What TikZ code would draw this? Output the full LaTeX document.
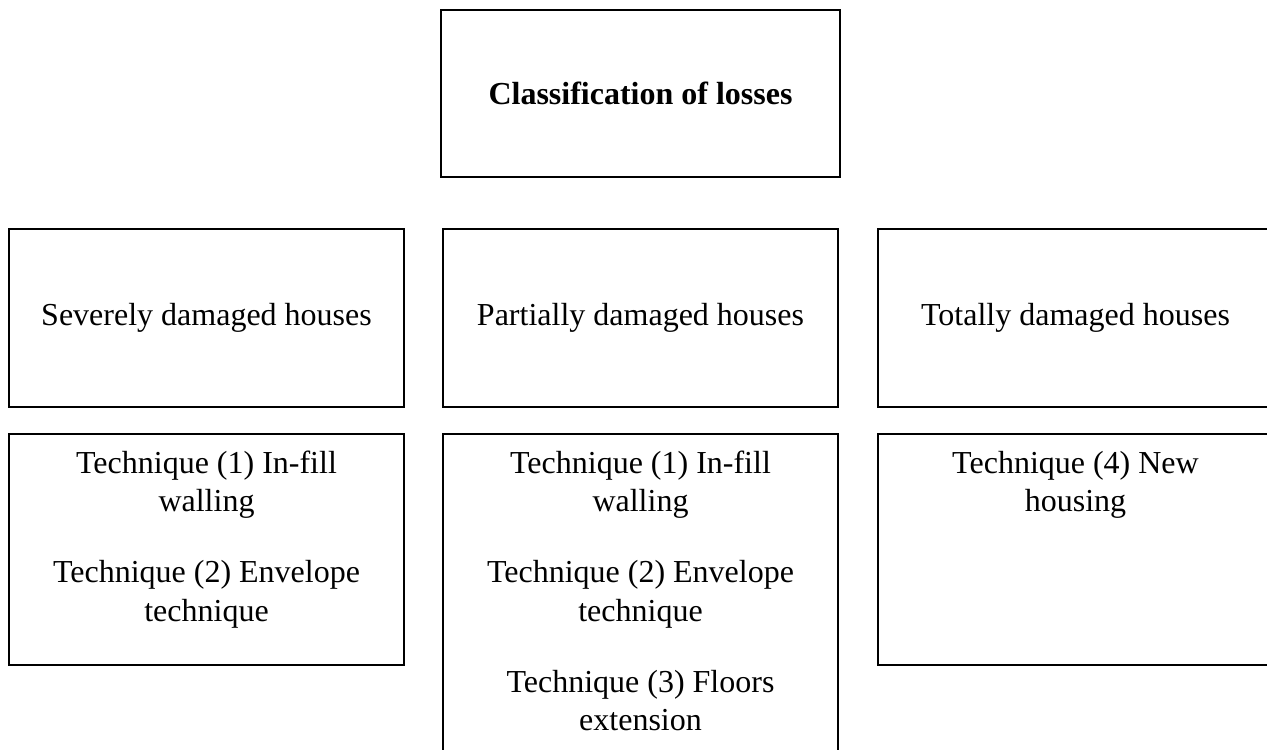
\documentclass[tikz,border=0pt]{standalone}
\usepackage{fontspec}
\setmainfont{Liberation Serif}
\usepackage{tikz}

\begin{document}
\begin{tikzpicture}[x=0.5pt,y=-0.5pt,
  caja/.style={draw,line width=0.75pt,inner sep=0pt,minimum width=197.5pt,
    font=\fontsize{16pt}{19.25pt}\selectfont},
  tecnica/.style={inner sep=0pt,text width=180pt,align=flush center,anchor=base,
    font=\fontsize{16pt}{19.25pt}\selectfont}]
  \useasboundingbox (0,0) rectangle (1267,749);
  \node[caja,minimum width=199.5pt,minimum height=83.5pt,font=\fontsize{16pt}{19.25pt}\selectfont\bfseries]
    (perdidas) at (640.5,93.5) {Classification of losses};
  \node[caja,minimum height=89pt] (severo) at (206.5,318) {Severely damaged houses};
  \node[caja,minimum height=89pt] (parcial) at (640.5,318) {Partially damaged houses};
  \node[caja,minimum height=89pt] (total) at (1075.5,318) {Totally damaged houses};
  \node[caja,anchor=north,minimum height=115.5pt] (severotec) at (206.5,433) {};
  \node[caja,anchor=north,minimum height=163.5pt] (parcialtec) at (640.5,433) {};
  \node[caja,anchor=north,minimum height=115.5pt] (totaltec) at (1075.5,433) {};
  \node[tecnica] (severotxt) at (206.5,473)
    {Technique (1) In-fill\\ walling\\[16.25pt] Technique (2) Envelope\\ technique};
  \node[tecnica] (parcialtxt) at (640.5,473)
    {Technique (1) In-fill\\ walling\\[16.25pt] Technique (2) Envelope\\ technique\\[16.25pt]
     Technique (3) Floors\\ extension};
  \node[tecnica] (totaltxt) at (1075.5,473) {Technique (4) New\\ housing};
\end{tikzpicture}
\end{document}
